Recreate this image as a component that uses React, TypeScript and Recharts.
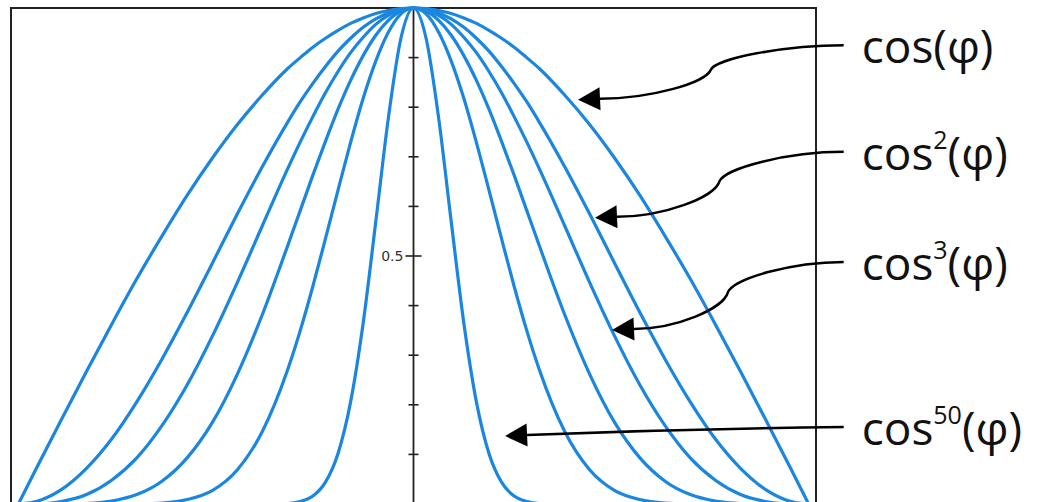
import { LineChart, Line, XAxis, YAxis, ReferenceLine, ReferenceArea } from 'recharts'

// right half of every curve (phi in radians); the left half is the mirror image
const phi = [0, 0.05, 0.1, 0.15, 0.2, 0.25, 0.3, 0.35, 0.4, 0.45, 0.5, 0.6, 0.7, 0.8, 0.9, 1.0, 1.1, 1.2, 1.3, 1.4, 1.5, 1.5708]
const cos1 = [1, 0.999, 0.995, 0.989, 0.98, 0.969, 0.955, 0.939, 0.921, 0.9, 0.878, 0.825, 0.765, 0.697, 0.622, 0.54, 0.454, 0.362, 0.267, 0.17, 0.071, 0]
const cos2 = [1, 0.998, 0.99, 0.978, 0.961, 0.939, 0.913, 0.882, 0.848, 0.811, 0.77, 0.681, 0.585, 0.485, 0.386, 0.292, 0.206, 0.131, 0.072, 0.029, 0.005, 0]
const cos3 = [1, 0.996, 0.985, 0.967, 0.941, 0.91, 0.872, 0.829, 0.781, 0.73, 0.676, 0.562, 0.447, 0.338, 0.24, 0.158, 0.093, 0.048, 0.019, 0.005, 0, 0]
const cos5 = [1, 0.994, 0.975, 0.945, 0.904, 0.854, 0.796, 0.731, 0.663, 0.592, 0.521, 0.383, 0.262, 0.164, 0.093, 0.046, 0.019, 0.006, 0.001, 0, 0, 0]
const cos10 = [1, 0.988, 0.951, 0.893, 0.818, 0.729, 0.633, 0.535, 0.439, 0.35, 0.271, 0.147, 0.069, 0.027, 0.009, 0.002, 0, 0, 0, 0, 0, 0]
const cos50 = [1, 0.939, 0.778, 0.569, 0.365, 0.206, 0.102, 0.044, 0.016, 0.005, 0.001, 0, 0, 0, 0, 0, 0, 0, 0, 0, 0, 0]

const seriesKeys = ['c1', 'c2', 'c3', 'c5', 'c10', 'c50']
const seriesValues = [cos1, cos2, cos3, cos5, cos10, cos50]

const xTicks = [-1.4, -1.2, -1.0, -0.8, -0.6, -0.4, -0.2, 0, 0.2, 0.4, 0.6, 0.8, 1.0, 1.2, 1.4]
const yTicks = [0.1, 0.2, 0.3, 0.4, 0.5, 0.6, 0.7, 0.8, 0.9]

// annotations: exponent shown in the label, tail (next to the label) and tip of each arrow
const labelPowers = ['', '2', '3', '50']
const arrowTails = [[1.71, 0.925], [1.71, 0.71], [1.71, 0.488], [1.71, 0.155]]
const arrowTips = [[0.654, 0.815], [0.7215, 0.577], [0.789, 0.351], [0.364, 0.137]]

const row = (i: number, sign: number) => {
  const r: Record<string, number> = { phi: sign * phi[i] }
  seriesKeys.forEach((k, j) => { r[k] = seriesValues[j][i] })
  return r
}
const data: Record<string, number>[] = []
for (let i = phi.length - 1; i > 0; i--) data.push(row(i, -1))
for (let i = 0; i < phi.length; i++) data.push(row(i, 1))

const BLUE = '#1a86e0'

function Arrow(props: any) {
  const { x1, y1, x2, y2, power, curly } = props
  const head = 22
  const half = 11.5
  const hx = x2 + head
  const hy = y2 - 1
  let d
  if (curly) {
    const dx = x1 - x2
    const dy = y2 - y1
    const mx = x2 + 0.5 * dx
    const my = y1 + 0.45 * dy
    d = `M${x1},${y1} C${x1 - 0.45 * (x1 - mx)},${y1} ${mx + 5},${my - 0.45 * (my - y1)} ${mx},${my}` +
      ` C${mx - 5},${my + 0.45 * (hy - my)} ${hx + 0.45 * (mx - hx)},${hy} ${hx},${hy}`
  } else {
    d = `M${x1},${y1} Q${(x1 + hx) / 2},${y1 + 0.2 * (hy - y1)} ${hx},${hy}`
  }
  const len = Math.hypot(x2 - hx, y2 - hy)
  const ux = (x2 - hx) / len
  const uy = (y2 - hy) / len
  const tri = `M${x2},${y2} L${hx - uy * half},${hy + ux * half} L${hx + uy * half},${hy - ux * half} Z`
  return (
    <g>
      <path d={d} fill="none" stroke="#000" strokeWidth={2.5} />
      <path d={tri} fill="#000" />
      <text x={x1 + 18} y={y1 + 18} fontFamily="Open Sans" fontSize={46} fill="#111">
        cos
        {power && <tspan dy={-21} fontSize={25}>{power}</tspan>}
        <tspan dy={power ? 21 : 0}>(φ)</tspan>
      </text>
    </g>
  )
}

const TickLabel = (props: any) => {
  const { viewBox } = props
  return (
    <text x={viewBox.x - 2} y={viewBox.y} dy={5} textAnchor="end" fill="#333" fontSize={14} fontFamily="DejaVu Sans">
      0.5
    </text>
  )
}

export default function App() {
  return (
    <div style={{ position: 'absolute', left: 0, top: 0, width: 1042, height: 502, overflow: 'hidden', background: '#fff' }}>
      <LineChart width={1042} height={504} data={data} margin={{ top: 8, right: 226, bottom: 0, left: 11 }}>
        <XAxis
          type="number"
          dataKey="phi"
          domain={[-1.6, 1.6]}
          ticks={xTicks}
          tick={false}
          tickSize={7}
          mirror
          height={0}
          stroke="#222"
          tickLine={{ stroke: '#222', strokeWidth: 1.6 }}
        />
        <YAxis type="number" domain={[0, 1]} hide />
        <ReferenceArea x1={-1.6} x2={1.6} y1={0} y2={1} fill="none" stroke="#222" strokeWidth={2} ifOverflow="visible" />
        <ReferenceLine x={0} stroke="#222" strokeWidth={1.8} />
        {yTicks.map((t) => {
          const w = t === 0.5 ? 0.032 : 0.02
          return (
            <ReferenceLine
              key={t}
              segment={[{ x: -w, y: t }, { x: w, y: t }]}
              stroke="#222"
              strokeWidth={1.6}
              label={t === 0.5 ? <TickLabel /> : undefined}
            />
          )
        })}
        {seriesKeys.map((k) => (
          <Line
            key={k}
            type="monotone"
            dataKey={k}
            stroke={BLUE}
            strokeWidth={3.2}
            dot={false}
            activeDot={false}
            isAnimationActive={false}
          />
        ))}
        {labelPowers.map((p, i) => (
          <ReferenceLine
            key={`arrow-${i}`}
            segment={[{ x: arrowTails[i][0], y: arrowTails[i][1] }, { x: arrowTips[i][0], y: arrowTips[i][1] }]}
            ifOverflow="visible"
            shape={(props: any) => <Arrow {...props} power={p} curly={i < 3} />}
          />
        ))}
      </LineChart>
    </div>
  )
}
